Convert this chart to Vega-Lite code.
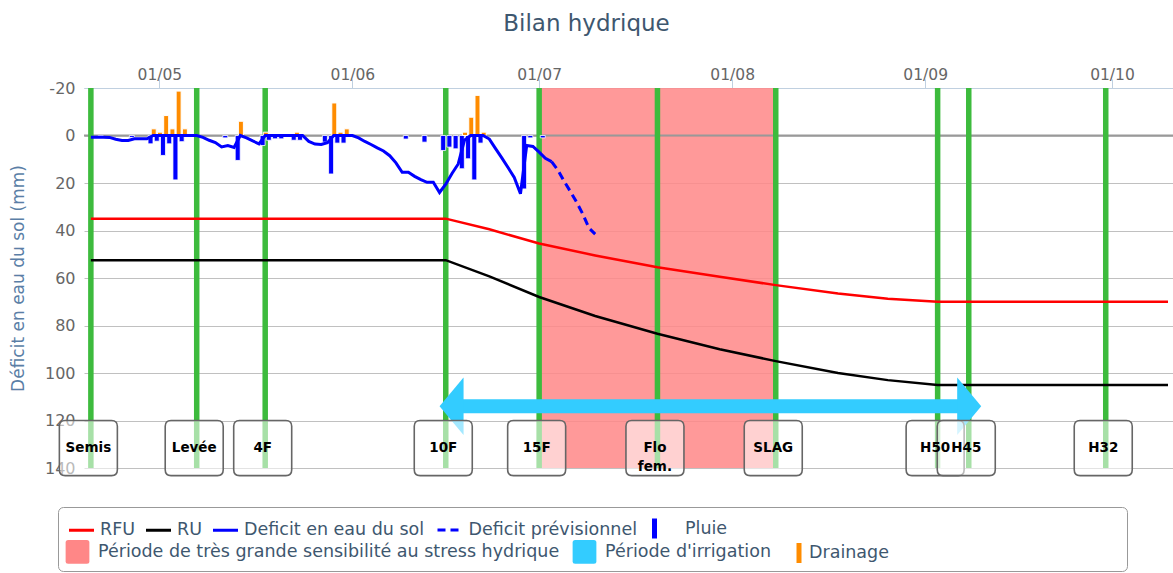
{
  "$schema": "https://vega.github.io/schema/vega-lite/v6.json",
  "width": 1089,
  "height": 380,
  "autosize": {"type": "none"},
  "padding": {"left": 84, "top": 88, "right": 0, "bottom": 105},
  "background": "white",
  "title": {"text": "Bilan hydrique", "font": "DejaVu Sans", "fontSize": 23, "fontWeight": "normal", "color": "#3E576F", "anchor": "middle", "frame": "group", "dx": -42, "offset": 31},
  "config": {
    "view": {"stroke": null},
    "font": "DejaVu Sans",
    "legend": {
      "orient": "none", "direction": "horizontal",
      "labelFont": "DejaVu Sans", "labelFontSize": 17.5, "labelColor": "#3E576F", "labelLimit": 1000,
      "labelOffset": 8, "columnPadding": 12, "padding": 0, "symbolSize": 625, "symbolOpacity": 1
    }
  },
  "datasets": {
    "courbes": [
      {"serie": "RFU", "date": "2023-04-20", "valeur": 35},
      {"serie": "RFU", "date": "2023-06-16", "valeur": 35},
      {"serie": "RFU", "date": "2023-06-23", "valeur": 39.5},
      {"serie": "RFU", "date": "2023-07-01", "valeur": 45.5},
      {"serie": "RFU", "date": "2023-07-10", "valeur": 50.5},
      {"serie": "RFU", "date": "2023-07-20", "valeur": 55.5},
      {"serie": "RFU", "date": "2023-07-30", "valeur": 59.5},
      {"serie": "RFU", "date": "2023-08-08", "valeur": 63},
      {"serie": "RFU", "date": "2023-08-18", "valeur": 66.5},
      {"serie": "RFU", "date": "2023-08-26", "valeur": 68.7},
      {"serie": "RFU", "date": "2023-09-03", "valeur": 70},
      {"serie": "RFU", "date": "2023-10-10", "valeur": 70},
      {"serie": "RU", "date": "2023-04-20", "valeur": 52.5},
      {"serie": "RU", "date": "2023-06-16", "valeur": 52.5},
      {"serie": "RU", "date": "2023-06-23", "valeur": 59.3},
      {"serie": "RU", "date": "2023-07-01", "valeur": 68},
      {"serie": "RU", "date": "2023-07-10", "valeur": 76},
      {"serie": "RU", "date": "2023-07-20", "valeur": 83.5},
      {"serie": "RU", "date": "2023-07-30", "valeur": 90},
      {"serie": "RU", "date": "2023-08-08", "valeur": 95},
      {"serie": "RU", "date": "2023-08-18", "valeur": 100},
      {"serie": "RU", "date": "2023-08-26", "valeur": 103},
      {"serie": "RU", "date": "2023-09-03", "valeur": 105},
      {"serie": "RU", "date": "2023-10-10", "valeur": 105},
      {"serie": "Deficit en eau du sol", "date": "2023-04-20", "valeur": 0.7},
      {"serie": "Deficit en eau du sol", "date": "2023-04-21", "valeur": 0.7},
      {"serie": "Deficit en eau du sol", "date": "2023-04-22", "valeur": 0.7},
      {"serie": "Deficit en eau du sol", "date": "2023-04-23", "valeur": 0.8},
      {"serie": "Deficit en eau du sol", "date": "2023-04-24", "valeur": 1.6},
      {"serie": "Deficit en eau du sol", "date": "2023-04-25", "valeur": 2.1},
      {"serie": "Deficit en eau du sol", "date": "2023-04-26", "valeur": 2.1},
      {"serie": "Deficit en eau du sol", "date": "2023-04-27", "valeur": 1.4},
      {"serie": "Deficit en eau du sol", "date": "2023-04-28", "valeur": 1.4},
      {"serie": "Deficit en eau du sol", "date": "2023-04-29", "valeur": 1.4},
      {"serie": "Deficit en eau du sol", "date": "2023-04-30", "valeur": 0},
      {"serie": "Deficit en eau du sol", "date": "2023-05-07", "valeur": 0},
      {"serie": "Deficit en eau du sol", "date": "2023-05-08", "valeur": 0.8},
      {"serie": "Deficit en eau du sol", "date": "2023-05-09", "valeur": 2},
      {"serie": "Deficit en eau du sol", "date": "2023-05-10", "valeur": 3},
      {"serie": "Deficit en eau du sol", "date": "2023-05-11", "valeur": 4.8},
      {"serie": "Deficit en eau du sol", "date": "2023-05-12", "valeur": 4.2},
      {"serie": "Deficit en eau du sol", "date": "2023-05-13", "valeur": 5},
      {"serie": "Deficit en eau du sol", "date": "2023-05-14", "valeur": 0},
      {"serie": "Deficit en eau du sol", "date": "2023-05-15", "valeur": 1},
      {"serie": "Deficit en eau du sol", "date": "2023-05-16", "valeur": 2.3},
      {"serie": "Deficit en eau du sol", "date": "2023-05-17", "valeur": 3.5},
      {"serie": "Deficit en eau du sol", "date": "2023-05-18", "valeur": 0},
      {"serie": "Deficit en eau du sol", "date": "2023-05-24", "valeur": 0},
      {"serie": "Deficit en eau du sol", "date": "2023-05-25", "valeur": 2.5},
      {"serie": "Deficit en eau du sol", "date": "2023-05-26", "valeur": 3.6},
      {"serie": "Deficit en eau du sol", "date": "2023-05-27", "valeur": 3.8},
      {"serie": "Deficit en eau du sol", "date": "2023-05-28", "valeur": 3},
      {"serie": "Deficit en eau du sol", "date": "2023-05-29", "valeur": 0},
      {"serie": "Deficit en eau du sol", "date": "2023-06-01", "valeur": 0},
      {"serie": "Deficit en eau du sol", "date": "2023-06-02", "valeur": 1},
      {"serie": "Deficit en eau du sol", "date": "2023-06-03", "valeur": 2.5},
      {"serie": "Deficit en eau du sol", "date": "2023-06-04", "valeur": 3.8},
      {"serie": "Deficit en eau du sol", "date": "2023-06-05", "valeur": 5.2},
      {"serie": "Deficit en eau du sol", "date": "2023-06-06", "valeur": 6.5},
      {"serie": "Deficit en eau du sol", "date": "2023-06-07", "valeur": 8.5},
      {"serie": "Deficit en eau du sol", "date": "2023-06-08", "valeur": 11.5},
      {"serie": "Deficit en eau du sol", "date": "2023-06-09", "valeur": 15.5},
      {"serie": "Deficit en eau du sol", "date": "2023-06-10", "valeur": 15.5},
      {"serie": "Deficit en eau du sol", "date": "2023-06-11", "valeur": 17.2},
      {"serie": "Deficit en eau du sol", "date": "2023-06-12", "valeur": 18.6},
      {"serie": "Deficit en eau du sol", "date": "2023-06-13", "valeur": 19.7},
      {"serie": "Deficit en eau du sol", "date": "2023-06-14", "valeur": 19.7},
      {"serie": "Deficit en eau du sol", "date": "2023-06-15", "valeur": 24},
      {"serie": "Deficit en eau du sol", "date": "2023-06-16", "valeur": 20.5},
      {"serie": "Deficit en eau du sol", "date": "2023-06-17", "valeur": 16},
      {"serie": "Deficit en eau du sol", "date": "2023-06-18", "valeur": 12},
      {"serie": "Deficit en eau du sol", "date": "2023-06-19", "valeur": 2},
      {"serie": "Deficit en eau du sol", "date": "2023-06-20", "valeur": 0},
      {"serie": "Deficit en eau du sol", "date": "2023-06-22", "valeur": 0},
      {"serie": "Deficit en eau du sol", "date": "2023-06-23", "valeur": 1.5},
      {"serie": "Deficit en eau du sol", "date": "2023-06-24", "valeur": 5.5},
      {"serie": "Deficit en eau du sol", "date": "2023-06-25", "valeur": 9.4},
      {"serie": "Deficit en eau du sol", "date": "2023-06-26", "valeur": 13.5},
      {"serie": "Deficit en eau du sol", "date": "2023-06-27", "valeur": 17.7},
      {"serie": "Deficit en eau du sol", "date": "2023-06-28", "valeur": 24.5},
      {"serie": "Deficit en eau du sol", "date": "2023-06-29", "valeur": 4.2},
      {"serie": "Deficit en eau du sol", "date": "2023-06-30", "valeur": 4.6},
      {"serie": "Deficit en eau du sol", "date": "2023-07-01", "valeur": 7},
      {"serie": "Deficit en eau du sol", "date": "2023-07-02", "valeur": 9.6},
      {"serie": "Deficit en eau du sol", "date": "2023-07-03", "valeur": 11},
      {"serie": "Deficit prévisionnel", "date": "2023-07-03", "valeur": 11},
      {"serie": "Deficit prévisionnel", "date": "2023-07-04", "valeur": 14.5},
      {"serie": "Deficit prévisionnel", "date": "2023-07-05", "valeur": 19.2},
      {"serie": "Deficit prévisionnel", "date": "2023-07-06", "valeur": 23.5},
      {"serie": "Deficit prévisionnel", "date": "2023-07-07", "valeur": 28},
      {"serie": "Deficit prévisionnel", "date": "2023-07-08", "valeur": 33},
      {"serie": "Deficit prévisionnel", "date": "2023-07-09", "valeur": 39},
      {"serie": "Deficit prévisionnel", "date": "2023-07-10", "valeur": 41.5}
    ],
    "pluie": [
      {"serie": "Pluie", "date": "2023-04-22", "valeur": 0.8},
      {"serie": "Pluie", "date": "2023-04-27", "valeur": 0.8},
      {"serie": "Pluie", "date": "2023-04-30", "valeur": 3.5},
      {"serie": "Pluie", "date": "2023-05-01", "valeur": 2.4},
      {"serie": "Pluie", "date": "2023-05-02", "valeur": 8.4},
      {"serie": "Pluie", "date": "2023-05-03", "valeur": 3.5},
      {"serie": "Pluie", "date": "2023-05-04", "valeur": 18.7},
      {"serie": "Pluie", "date": "2023-05-05", "valeur": 2.6},
      {"serie": "Pluie", "date": "2023-05-12", "valeur": 1},
      {"serie": "Pluie", "date": "2023-05-14", "valeur": 10.5},
      {"serie": "Pluie", "date": "2023-05-18", "valeur": 4.2},
      {"serie": "Pluie", "date": "2023-05-19", "valeur": 2},
      {"serie": "Pluie", "date": "2023-05-20", "valeur": 1.4},
      {"serie": "Pluie", "date": "2023-05-21", "valeur": 1.4},
      {"serie": "Pluie", "date": "2023-05-23", "valeur": 2},
      {"serie": "Pluie", "date": "2023-05-24", "valeur": 2},
      {"serie": "Pluie", "date": "2023-05-28", "valeur": 2.8},
      {"serie": "Pluie", "date": "2023-05-29", "valeur": 16.2},
      {"serie": "Pluie", "date": "2023-05-30", "valeur": 3.2},
      {"serie": "Pluie", "date": "2023-05-31", "valeur": 3.2},
      {"serie": "Pluie", "date": "2023-06-10", "valeur": 1.5},
      {"serie": "Pluie", "date": "2023-06-13", "valeur": 2.8},
      {"serie": "Pluie", "date": "2023-06-16", "valeur": 6.3},
      {"serie": "Pluie", "date": "2023-06-17", "valeur": 4.9},
      {"serie": "Pluie", "date": "2023-06-18", "valeur": 5.6},
      {"serie": "Pluie", "date": "2023-06-19", "valeur": 14},
      {"serie": "Pluie", "date": "2023-06-20", "valeur": 9.8},
      {"serie": "Pluie", "date": "2023-06-21", "valeur": 18.7},
      {"serie": "Pluie", "date": "2023-06-22", "valeur": 3.2},
      {"serie": "Pluie", "date": "2023-06-29", "valeur": 22.5},
      {"serie": "Pluie", "date": "2023-06-30", "valeur": 1},
      {"serie": "Pluie", "date": "2023-07-02", "valeur": 1}
    ],
    "drainage": [
      {"serie": "Drainage", "date": "2023-04-30", "valeur": -2.8},
      {"serie": "Drainage", "date": "2023-05-01", "valeur": -1.4},
      {"serie": "Drainage", "date": "2023-05-02", "valeur": -8.4},
      {"serie": "Drainage", "date": "2023-05-03", "valeur": -2.8},
      {"serie": "Drainage", "date": "2023-05-04", "valeur": -18.7},
      {"serie": "Drainage", "date": "2023-05-05", "valeur": -2.8},
      {"serie": "Drainage", "date": "2023-05-14", "valeur": -6},
      {"serie": "Drainage", "date": "2023-05-18", "valeur": -1.4},
      {"serie": "Drainage", "date": "2023-05-20", "valeur": -0.6},
      {"serie": "Drainage", "date": "2023-05-21", "valeur": -0.6},
      {"serie": "Drainage", "date": "2023-05-22", "valeur": -0.6},
      {"serie": "Drainage", "date": "2023-05-23", "valeur": -1.4},
      {"serie": "Drainage", "date": "2023-05-29", "valeur": -13.7},
      {"serie": "Drainage", "date": "2023-05-30", "valeur": -1.4},
      {"serie": "Drainage", "date": "2023-05-31", "valeur": -2.8},
      {"serie": "Drainage", "date": "2023-06-19", "valeur": -1.4},
      {"serie": "Drainage", "date": "2023-06-20", "valeur": -7.7},
      {"serie": "Drainage", "date": "2023-06-21", "valeur": -16.9},
      {"serie": "Drainage", "date": "2023-06-22", "valeur": -1.4}
    ],
    "stades": [
      {"stade": "Semis", "date": "2023-04-20"},
      {"stade": "Levée", "date": "2023-05-07"},
      {"stade": "4F", "date": "2023-05-18"},
      {"stade": "10F", "date": "2023-06-16"},
      {"stade": "15F", "date": "2023-07-01"},
      {"stade": "Flo fem.", "date": "2023-07-20"},
      {"stade": "SLAG", "date": "2023-08-08"},
      {"stade": "H50", "date": "2023-09-03"},
      {"stade": "H45", "date": "2023-09-08"},
      {"stade": "H32", "date": "2023-09-30"}
    ],
    "periodes": [
      {"serie": "Période de très grande sensibilité au stress hydrique", "date": "2023-07-01", "fin": "2023-08-08"},
      {"serie": "Période d'irrigation", "date": "2023-06-15", "fin": "2023-09-10"}
    ]
  },
  "layer": [
    {
      "data": {"name": "periodes"},
      "transform": [{"filter": "datum.serie === 'Période de très grande sensibilité au stress hydrique'"}],
      "mark": {"type": "rect", "opacity": 0.85},
      "encoding": {
        "x": {
          "field": "date", "type": "temporal", "title": null,
          "scale": {"type": "utc", "nice": false, "domain": [{"year": 2023, "month": 4, "date": 19, "hours": 16, "minutes": 48, "utc": true}, {"year": 2023, "month": 10, "date": 10, "utc": true}]},
          "axis": {
            "orient": "top", "title": null, "format": "%d/%m",
            "values": [{"year": 2023, "month": 5, "date": 1, "utc": true}, {"year": 2023, "month": 6, "date": 1, "utc": true}, {"year": 2023, "month": 7, "date": 1, "utc": true}, {"year": 2023, "month": 8, "date": 1, "utc": true}, {"year": 2023, "month": 9, "date": 1, "utc": true}, {"year": 2023, "month": 10, "date": 1, "utc": true}],
            "labelFont": "DejaVu Sans", "labelFontSize": 15.5, "labelColor": "#666666",
            "tickColor": "#C0D0E0", "tickSize": 9, "labelPadding": -3,
            "domainColor": "#C0D0E0", "grid": false
          }
        },
        "x2": {"field": "fin"},
        "color": {
          "field": "serie", "type": "nominal",
          "scale": {
            "domain": ["Période de très grande sensibilité au stress hydrique", "Période d'irrigation"],
            "range": ["#ff8787", "#33ccff"]
          },
          "legend": {
            "title": "⠀⠀⠀⠀⠀⠀⠀⠀⠀⠀⠀⠀⠀⠀⠀⠀⠀⠀⠀⠀⠀⠀⠀⠀⠀⠀⠀⠀⠀⠀⠀⠀⠀⠀⠀⠀⠀⠀⠀⠀⠀⠀⠀⠀⠀⠀⠀⠀⠀⠀⠀⠀⠀⠀⠀⠀⠀⠀⠀⠀⠀⠀⠀⠀⠀⠀⠀⠀⠀⠀⠀⠀⠀⠀⠀⠀⠀⠀⠀⠀⠀⠀⠀⠀⠀⠀⠀⠀⠀⠀⠀⠀⠀⠀⠀⠀⠀⠀⠀⠀⠀⠀⠀⠀⠀⠀⠀⠀⠀⠀⠀⠀⠀⠀⠀⠀⠀⠀⠀⠀⠀⠀⠀⠀⠀⠀⠀⠀⠀⠀⠀⠀⠀⠀⠀⠀⠀⠀⠀⠀⠀⠀⠀⠀⠀⠀⠀⠀⠀⠀⠀⠀⠀⠀⠀⠀⠀⠀⠀⠀⠀⠀⠀⠀⠀⠀⠀⠀⠀⠀⠀⠀⠀⠀⠀⠀⠀⠀⠀⠀⠀⠀⠀⠀⠀⠀⠀⠀⠀⠀⠀⠀⠀⠀⠀⠀⠀⠀⠀⠀⠀⠀⠀⠀⠀⠀⠀⠀⠀⠀⠀⠀⠀⠀⠀⠀⠀⠀⠀⠀⠀⠀⠀⠀⠀⠀⠀⠀⠀⠀⠀⠀⠀⠀⠀⠀⠀⠀⠀⠀⠀⠀⠀⠀⠀⠀⠀⠀⠀⠀⠀⠀⠀⠀⠀⠀⠀⠀⠀⠀⠀⠀⠀⠀⠀⠀⠀⠀⠀⠀⠀⠀⠀⠀⠀⠀⠀⠀⠀⠀⠀⠀⠀⠀⠀⠀⠀⠀⠀⠀⠀⠀⠀⠀⠀⠀⠀⠀⠀⠀⠀⠀⠀⠀⠀⠀⠀⠀⠀⠀⠀⠀⠀⠀⠀⠀⠀⠀⠀⠀⠀⠀⠀⠀⠀⠀⠀⠀⠀⠀⠀⠀⠀⠀⠀⠀⠀⠀⠀⠀⠀⠀⠀⠀⠀⠀⠀⠀⠀⠀⠀⠀⠀⠀⠀⠀⠀⠀⠀⠀⠀⠀⠀⠀⠀⠀⠀⠀⠀⠀⠀⠀⠀⠀⠀⠀⠀⠀⠀⠀⠀⠀⠀⠀⠀⠀⠀⠀⠀⠀⠀⠀⠀⠀⠀⠀⠀⠀⠀⠀⠀⠀⠀⠀⠀⠀⠀⠀⠀⠀⠀⠀⠀⠀⠀⠀⠀⠀⠀⠀⠀⠀⠀⠀⠀⠀⠀⠀⠀⠀⠀⠀⠀⠀⠀⠀⠀⠀⠀⠀⠀⠀⠀⠀⠀⠀⠀⠀⠀⠀",
            "titleFontSize": 3, "titleLimit": 5000, "titlePadding": 22, "titleColor": "#ffffff", "titleFont": "DejaVu Sans",
            "legendX": -26, "legendY": 419, "padding": 7,
            "strokeColor": "#999999", "cornerRadius": 5,
            "symbolType": "M-0.75,-0.95L0.75,-0.95Q0.95,-0.95 0.95,-0.75L0.95,0.75Q0.95,0.95 0.75,0.95L-0.75,0.95Q-0.95,0.95 -0.95,0.75L-0.95,-0.75Q-0.95,-0.95 -0.75,-0.95Z",
            "symbolStrokeWidth": 0
          }
        }
      }
    },
    {
      "data": {"values": [{}]},
      "mark": {"type": "rule", "color": "#999999", "strokeWidth": 2},
      "encoding": {
        "y": {"datum": 0, "type": "quantitative", "scale": {"domain": [-20, 140], "reverse": true, "nice": false, "zero": false},
          "axis": {
            "values": [-20, -10, 0, 10, 20, 30, 40, 50, 60, 70, 80, 90, 100, 110, 120, 130, 140],
            "labelExpr": "'' + datum.value", "labelOverlap": false,
            "labelFont": "DejaVu Sans", "labelFontSize": 16, "labelColor": "#666666",
            "tickSize": 0, "labelPadding": 9, "domain": false,
            "grid": true, "gridColor": "#C0C0C0", "gridWidth": 1,
            "title": "Déficit en eau du sol (mm)", "titleFont": "DejaVu Sans", "titleFontSize": 17, "titleFontWeight": "normal",
            "titleColor": "#5a7ea6", "titleX": -66, "titleY": 190, "titleAngle": 270, "titleAlign": "center", "titleBaseline": "middle"
          }
        }
      }
    },
    {
      "data": {"name": "stades"},
      "mark": {"type": "rule", "color": "#3dbb3d", "strokeWidth": 5.5},
      "encoding": {
        "x": {"field": "date", "type": "temporal", "title": null}
      }
    },
    {
      "data": {"name": "courbes"},
      "transform": [{"filter": "datum.serie === 'RFU' || datum.serie === 'RU'"}],
      "mark": {"type": "line", "strokeWidth": 2.5},
      "encoding": {
        "x": {"field": "date", "type": "temporal", "title": null},
        "y": {"field": "valeur", "type": "quantitative"},
        "stroke": {
          "field": "serie", "type": "nominal",
          "scale": {"domain": ["RFU", "RU", "Deficit en eau du sol"], "range": ["#ff0000", "#000000", "#0000ff"]},
          "legend": {"title": null, "legendX": -16.5, "legendY": 428, "symbolType": "stroke", "symbolStrokeWidth": 3, "labelOffset": 4.5, "columnPadding": 4}
        }
      }
    },
    {
      "data": {"name": "pluie"},
      "mark": {"type": "bar", "width": 5, "xOffset": -2.6, "color": "#0000ff", "stroke": "white", "strokeWidth": 0.8},
      "encoding": {
        "x": {"field": "date", "type": "temporal", "title": null},
        "y": {"field": "valeur", "type": "quantitative", "stack": null},
        "opacity": {
          "field": "serie", "type": "ordinal",
          "scale": {"domain": ["Pluie"], "range": [1]},
          "legend": {"title": null, "legendX": 568, "legendY": 428, "symbolType": "M-1,-0.8L-0.6,-0.8L-0.6,0.8L-1,0.8Z", "symbolStrokeWidth": 0, "symbolFillColor": "#0000ff"}
        }
      }
    },
    {
      "data": {"name": "drainage"},
      "mark": {"type": "bar", "width": 5, "xOffset": 0.6, "color": "#ff8c00", "stroke": "white"},
      "encoding": {
        "x": {"field": "date", "type": "temporal", "title": null},
        "y": {"field": "valeur", "type": "quantitative", "stack": null},
        "strokeWidth": {
          "field": "serie", "type": "ordinal",
          "scale": {"domain": ["Drainage"], "range": [0.8]},
          "legend": {"title": null, "legendX": 725, "legendY": 465, "labelOffset": 31, "symbolType": "M-1,-0.8L-0.6,-0.8L-0.6,0.8L-1,0.8Z", "symbolStrokeColor": "#ff8c00", "symbolFillColor": "#ff8c00"}
        }
      }
    },
    {
      "data": {"name": "courbes"},
      "transform": [{"filter": "datum.serie === 'Deficit en eau du sol'"}],
      "mark": {"type": "line", "strokeWidth": 3},
      "encoding": {
        "x": {"field": "date", "type": "temporal", "title": null},
        "y": {"field": "valeur", "type": "quantitative"},
        "stroke": {"field": "serie", "type": "nominal"}
      }
    },
    {
      "data": {"name": "courbes"},
      "transform": [{"filter": "datum.serie === 'Deficit prévisionnel'"}],
      "mark": {"type": "line", "strokeWidth": 3, "color": "#0000ff"},
      "encoding": {
        "x": {"field": "date", "type": "temporal", "title": null},
        "y": {"field": "valeur", "type": "quantitative"},
        "strokeDash": {
          "field": "serie", "type": "nominal",
          "scale": {"domain": ["Deficit prévisionnel"], "range": [[8, 5]]},
          "legend": {"title": null, "legendX": 352, "legendY": 428, "symbolType": "stroke", "symbolStrokeWidth": 3, "symbolStrokeColor": "#0000ff", "symbolDash": [7, 4], "labelOffset": 4.5}
        }
      }
    },
    {
      "data": {"name": "periodes"},
      "transform": [{"filter": "datum.serie === \"Période d'irrigation\""}],
      "mark": {"type": "rule", "strokeWidth": 14, "xOffset": 20, "x2Offset": -20, "color": "#33ccff"},
      "encoding": {
        "x": {"field": "date", "type": "temporal", "title": null},
        "x2": {"field": "fin"},
        "y": {"datum": 114, "type": "quantitative"}
      }
    },
    {
      "data": {"name": "periodes"},
      "transform": [{"filter": "datum.serie === \"Période d'irrigation\""}],
      "mark": {"type": "point", "shape": "M0,0L1,-1.2L1,1.2Z", "size": 2304, "filled": true, "color": "#33ccff", "opacity": 1, "strokeWidth": 0},
      "encoding": {
        "x": {"field": "date", "type": "temporal", "title": null},
        "y": {"datum": 114, "type": "quantitative"}
      }
    },
    {
      "data": {"name": "periodes"},
      "transform": [{"filter": "datum.serie === \"Période d'irrigation\""}],
      "mark": {"type": "point", "shape": "M0,0L-1,-1.2L-1,1.2Z", "size": 2304, "filled": true, "color": "#33ccff", "opacity": 1, "strokeWidth": 0},
      "encoding": {
        "x": {"field": "fin", "type": "temporal", "title": null},
        "y": {"datum": 114, "type": "quantitative"}
      }
    },
    {
      "data": {"name": "stades"},
      "mark": {"type": "point", "shape": "M-0.8,-0.95L0.8,-0.95Q1,-0.95 1,-0.75L1,0.75Q1,0.95 0.8,0.95L-0.8,0.95Q-1,0.95 -1,0.75L-1,-0.75Q-1,-0.95 -0.8,-0.95Z", "size": 3364, "filled": true, "fill": "white", "fillOpacity": 0.55, "stroke": "#666666", "strokeWidth": 1.6, "strokeOpacity": 1, "xOffset": -2.5},
      "encoding": {
        "x": {"field": "date", "type": "temporal", "title": null},
        "y": {"datum": 131.6, "type": "quantitative"}
      }
    },
    {
      "data": {"name": "stades"},
      "mark": {"type": "text", "font": "DejaVu Sans", "fontSize": 13.5, "fontWeight": "bold", "color": "#000000", "baseline": "middle", "align": "center", "lineBreak": " ", "lineHeight": 19, "xOffset": -2.5},
      "encoding": {
        "x": {"field": "date", "type": "temporal", "title": null},
        "y": {"datum": 131.6, "type": "quantitative"},
        "text": {"field": "stade"}
      }
    }
  ]
}
